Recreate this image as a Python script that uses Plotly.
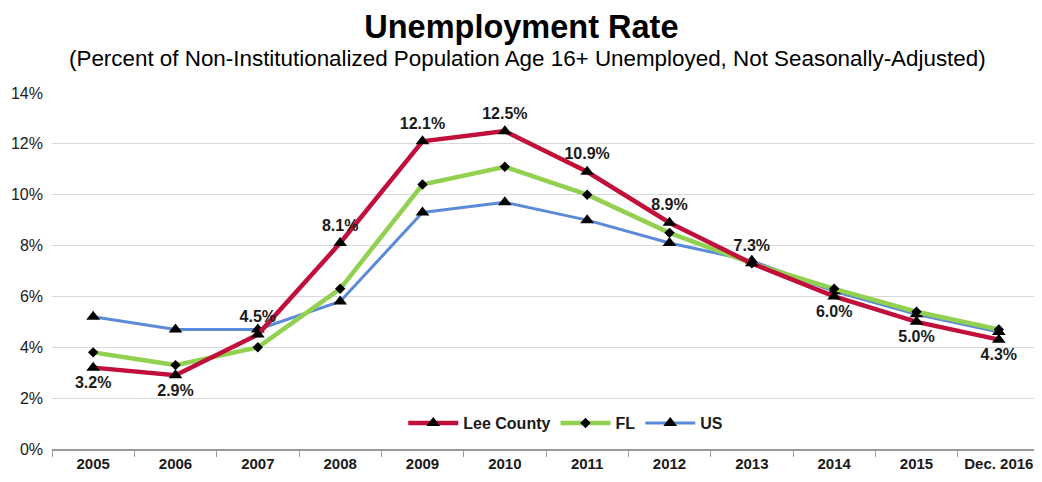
import plotly.graph_objects as go

years = ["2005", "2006", "2007", "2008", "2009", "2010", "2011", "2012", "2013", "2014", "2015", "Dec. 2016"]
lee_county = [3.2, 2.9, 4.5, 8.1, 12.1, 12.5, 10.9, 8.9, 7.3, 6.0, 5.0, 4.3]
florida = [3.8, 3.3, 4.0, 6.3, 10.4, 11.1, 10.0, 8.5, 7.3, 6.3, 5.4, 4.7]
us = [5.2, 4.7, 4.7, 5.8, 9.3, 9.7, 9.0, 8.1, 7.4, 6.2, 5.3, 4.6]
# label above or below each Lee County point
lee_label_pos = ["bottom center", "bottom center", "top center", "top center", "top center", "top center",
                 "top center", "top center", "top center", "bottom center", "bottom center", "bottom center"]

fig = go.Figure()

fig.add_trace(go.Scatter(
    x=years, y=us, name="US", mode="lines+markers",
    line=dict(color="#5B8AD8", width=3),
    marker=dict(symbol="triangle-up", size=12, color="black"),
))
fig.add_trace(go.Scatter(
    x=years, y=florida, name="FL", mode="lines+markers",
    line=dict(color="#92D050", width=4.5),
    marker=dict(symbol="diamond", size=8, color="black"),
))
fig.add_trace(go.Scatter(
    x=years, y=lee_county, name="Lee County", mode="lines+markers+text",
    line=dict(color="#C00F3A", width=4.5),
    marker=dict(symbol="triangle-up", size=12, color="black"),
    text=[f"{v:.1f}%" for v in lee_county],
    textposition=lee_label_pos,
    textfont=dict(family="Liberation Sans", size=16, color="#1a1a1a", weight="bold"),
))

# page body has an 8px margin, so the figure is drawn 8px smaller
fig.update_layout(
    width=1034, height=474,
    margin=dict(l=44, r=2, t=85, b=33, autoexpand=False),
    paper_bgcolor="white", plot_bgcolor="white",
    font=dict(family="Liberation Sans", color="#1a1a1a"),
    title=dict(text="<b>Unemployment Rate</b>", x=0.4965, xanchor="center",
               yref="container", y=0.96, yanchor="middle",
               font=dict(size=32.5, color="black")),
    showlegend=True,
    legend=dict(orientation="h", x=0.52, y=0.025, xanchor="center", yanchor="bottom",
                traceorder="reversed", font=dict(size=16, weight="bold"),
                itemwidth=50, bgcolor="rgba(0,0,0,0)"),
    annotations=[
        dict(text="(Percent of Non-Institutionalized Population Age 16+ Unemployed, Not Seasonally-Adjusted)",
             x=0.5, y=1.0, xref="paper", yref="paper", xanchor="center", yanchor="middle",
             yshift=35, xshift=-19, showarrow=False, font=dict(size=22.4, color="black")),
    ],
)

fig.update_xaxes(
    type="category", range=[-0.5, 11.5], automargin=False,
    showline=True, linecolor="#9a9a9a", linewidth=1.5,
    ticks="outside", tickson="boundaries", ticklen=6, tickcolor="#9a9a9a",
    showgrid=False, tickfont=dict(size=15, weight="bold"),
)
fig.update_yaxes(
    range=[0, 14], dtick=2, ticksuffix="%", automargin=False,
    showgrid=True, gridcolor="#d9d9d9", gridwidth=1,
    zeroline=False, showline=False, tickfont=dict(size=16),
    ticklabelstandoff=8,
)

fig.write_html("out.html")
